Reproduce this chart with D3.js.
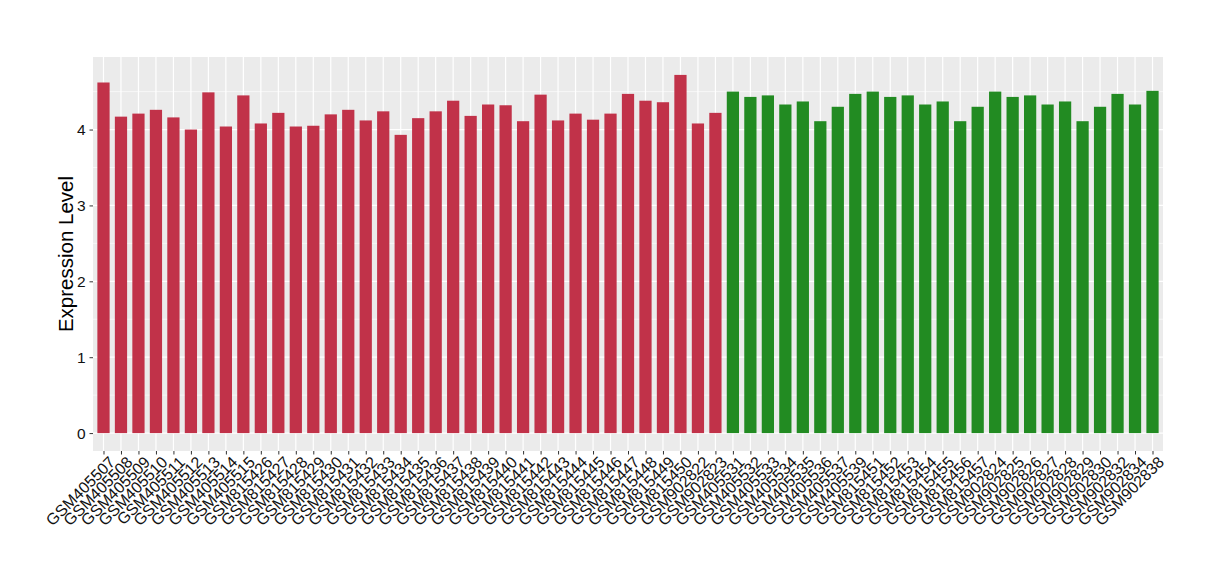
<!DOCTYPE html>
<html>
<head>
<meta charset="utf-8">
<script src="https://cdn.jsdelivr.net/npm/d3@7"></script>
<style>
  html, body { margin: 0; padding: 0; background: #ffffff; }
  svg { display: block; font-family: "Liberation Sans", Arial, sans-serif; }
</style>
</head>
<body>
<svg id="chart" width="1220" height="580"></svg>
<script>
const samplesA = ["GSM405507","GSM405508","GSM405509","GSM405510","GSM405511","GSM405512","GSM405513","GSM405514","GSM405515",
  "GSM815426","GSM815427","GSM815428","GSM815429","GSM815430","GSM815431","GSM815432","GSM815433","GSM815434","GSM815435",
  "GSM815436","GSM815437","GSM815438","GSM815439","GSM815440","GSM815441","GSM815442","GSM815443","GSM815444","GSM815445",
  "GSM815446","GSM815447","GSM815448","GSM815449","GSM815450","GSM902822","GSM902823"];
const valuesA = [4.62,4.17,4.21,4.26,4.16,4.00,4.49,4.04,4.45,
  4.08,4.22,4.04,4.05,4.20,4.26,4.12,4.24,3.93,4.15,
  4.24,4.38,4.18,4.33,4.32,4.11,4.46,4.12,4.21,4.13,
  4.21,4.47,4.38,4.36,4.72,4.08,4.22];
const samplesB = ["GSM405531","GSM405532","GSM405533","GSM405534","GSM405535","GSM405536","GSM405537","GSM405539",
  "GSM815451","GSM815452","GSM815453","GSM815454","GSM815455","GSM815456","GSM815457",
  "GSM902824","GSM902825","GSM902826","GSM902827","GSM902828","GSM902829","GSM902830","GSM902832","GSM902834","GSM902838"];
const valuesB = [4.50,4.43,4.45,4.33,4.37,4.11,4.30,4.47,
  4.50,4.43,4.45,4.33,4.37,4.11,4.30,
  4.50,4.43,4.45,4.33,4.37,4.11,4.30,4.47,4.33,4.51];
const yTicks = [0,1,2,3,4];
const yMinor = [0.5,1.5,2.5,3.5,4.5];
const colorA = "#c13249";
const colorB = "#228b22";
const yTitle = "Expression Level";

const data = samplesA.map((s,i)=>({s, v: valuesA[i], c: colorA}))
  .concat(samplesB.map((s,i)=>({s, v: valuesB[i], c: colorB})));

const svg = d3.select("#chart");
const L = 93, R = 1163, T = 57, B = 451;
const n = data.length;
const unit = (R - L) / (n - 1 + 1.2);
const x = d3.scalePoint().domain(data.map(d=>d.s)).range([L + 0.6*unit, R - 0.6*unit]);
const vmax = d3.max(data, d=>d.v);
const y = d3.scaleLinear().domain([-0.05*vmax, vmax*1.05]).range([B, T]);

svg.append("rect").attr("x", L).attr("y", T).attr("width", R-L).attr("height", B-T).attr("fill", "#ebebeb");

const g = svg.append("g");
g.selectAll(".minor").data(yMinor).enter().append("line")
  .attr("x1", L).attr("x2", R).attr("y1", d=>y(d)).attr("y2", d=>y(d))
  .attr("stroke", "#ffffff").attr("stroke-width", 0.6);
g.selectAll(".major").data(yTicks).enter().append("line")
  .attr("x1", L).attr("x2", R).attr("y1", d=>y(d)).attr("y2", d=>y(d))
  .attr("stroke", "#ffffff").attr("stroke-width", 1.2);
g.selectAll(".vmajor").data(data).enter().append("line")
  .attr("x1", d=>x(d.s)).attr("x2", d=>x(d.s)).attr("y1", T).attr("y2", B)
  .attr("stroke", "#ffffff").attr("stroke-width", 1.2);

const bw = unit * 0.7;
svg.selectAll(".bar").data(data).enter().append("rect")
  .attr("x", d=>x(d.s) - bw/2).attr("width", bw)
  .attr("y", d=>y(d.v)).attr("height", d=>y(0)-y(d.v))
  .attr("fill", d=>d.c);

// Y axis
const yAxis = d3.axisLeft(y).tickValues(yTicks).tickSize(3.5).tickPadding(4).tickFormat(d3.format("d"));
const ya = svg.append("g").attr("transform", `translate(${L},0)`).call(yAxis);
ya.select(".domain").remove();
ya.selectAll(".tick line").attr("stroke", "#333333");
ya.selectAll(".tick text").attr("font-size", 15.5).attr("fill", "#111111").attr("font-family", "Liberation Sans, Arial, sans-serif");

// X axis
const xAxis = d3.axisBottom(x).tickSize(3.5).tickPadding(2);
const xa = svg.append("g").attr("transform", `translate(0,${B})`).call(xAxis);
xa.select(".domain").remove();
xa.selectAll(".tick line").attr("stroke", "#333333");
xa.selectAll(".tick text")
  .attr("font-size", 16).attr("fill", "#111111").attr("font-family", "Liberation Sans, Arial, sans-serif")
  .attr("text-anchor", "end")
  .attr("transform", "translate(4,4) rotate(-45)")
  .attr("dy", "0.72em").attr("y", 0);

svg.append("text")
  .attr("transform", `translate(73,${(T+B)/2}) rotate(-90)`)
  .attr("text-anchor", "middle")
  .attr("font-size", 20.5)
  .attr("fill", "#000000")
  .text(yTitle);
</script>
</body>
</html>
